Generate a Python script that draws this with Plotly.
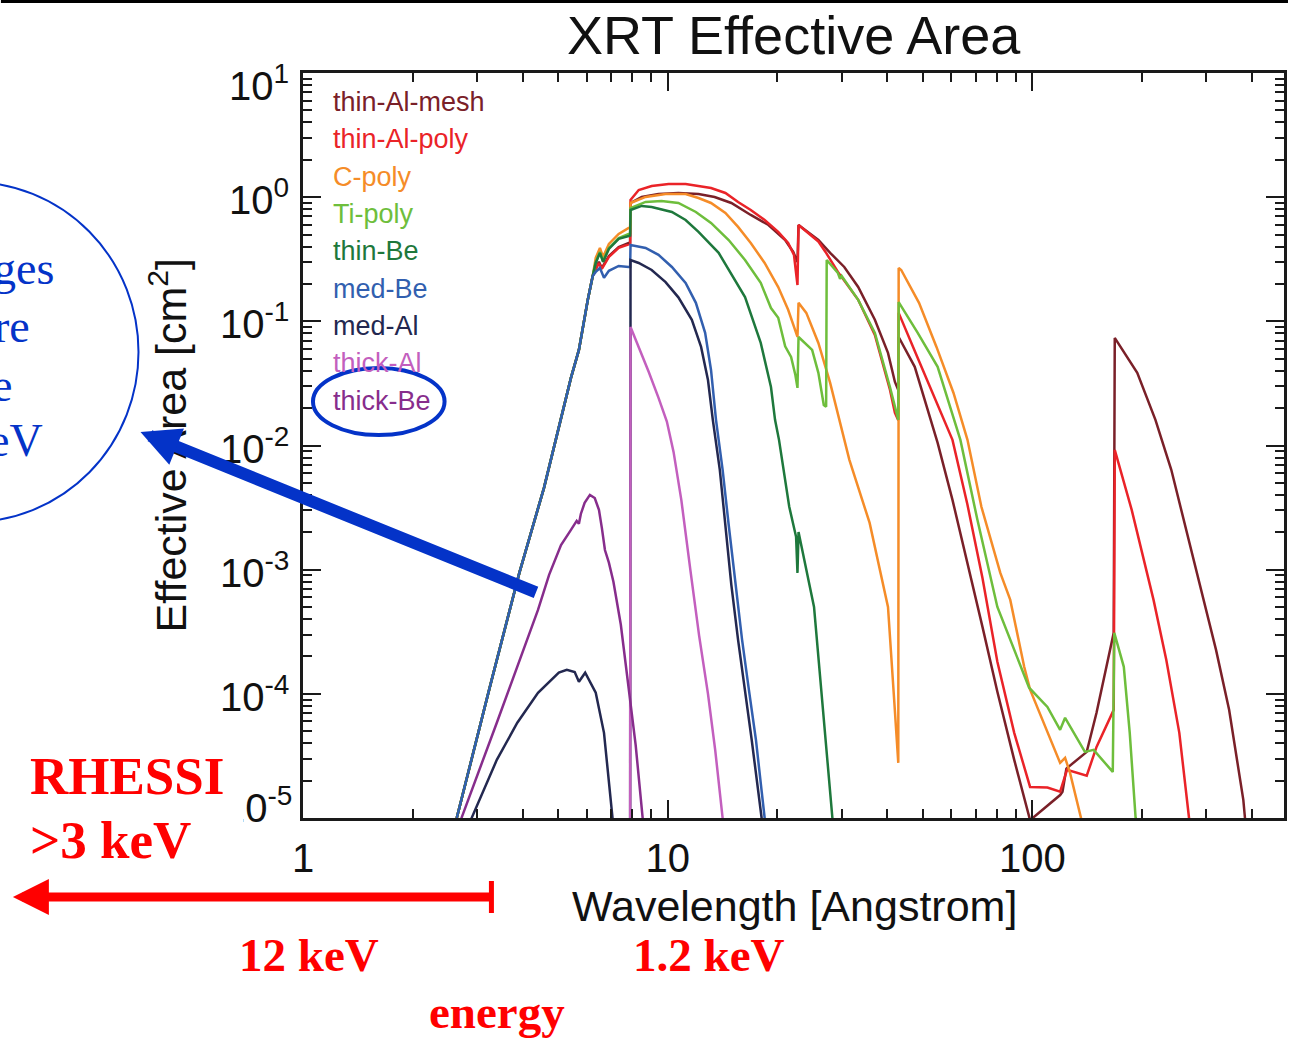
import math
import plotly.graph_objects as go

# ---------------------------------------------------------------
# XRT filter effective areas: wavelength [Angstrom] vs area [cm^2]
# ---------------------------------------------------------------

# steep common rise below the Si K edge (mirror + CCD response)
rise_wl = [2.58, 2.64, 3.24, 3.92, 4.58, 5.06, 5.43, 5.71, 5.85, 6.04, 6.23]
rise_area = [8.0e-6, 1.0e-5, 1.08e-4, 9.42e-4, 4.56e-3, 0.0152, 0.035, 0.0589, 0.0885, 0.149, 0.232]

thin_al_mesh_wl = rise_wl + [
    6.35, 6.48, 6.60, 6.90, 7.34, 7.82, 7.89,
    7.91, 8.49, 9.44, 10.7, 12.15, 13.45, 14.95, 16.9, 18.9, 21.0, 22.1, 22.7,
    22.85, 25.9, 27.9, 30.5, 33.3, 37.0, 40.2, 42.0, 42.9,
    43.0, 47.6, 55.0, 60.4, 66.4, 73.0, 80.2, 89.2, 98.6, 119.2, 121.0, 124.0, 141, 150, 167.2,
    168.3, 194, 217.6, 240.5, 264, 294.7, 319, 346.5, 379, 383, 388]
thin_al_mesh_area = rise_area + [
    0.269, 0.301, 0.269, 0.336, 0.397, 0.428, 0.43,
    0.898, 1.004, 1.061, 1.081, 1.061, 1.004, 0.898, 0.719, 0.597, 0.452, 0.362, 0.30,
    0.597, 0.452, 0.356, 0.274, 0.189, 0.103, 0.0557, 0.0325, 0.028,
    0.0748, 0.0430, 0.0105, 0.00365, 0.00114, 0.000346, 0.000104, 2.94e-5, 9.6e-6, 1.53e-5, 1.63e-5, 2.5e-5, 3.41e-5, 7.03e-5, 3.1e-4,
    0.0735, 0.0385, 0.0161, 0.00637, 0.00209, 0.000571, 0.000226, 7.43e-5, 1.4e-5, 1.0e-5, 7e-6]

thin_al_poly_wl = rise_wl + [
    6.35, 6.48, 6.60, 6.90, 7.34, 7.82, 7.89,
    7.91, 8.33, 9.04, 10.06, 11.2, 12.15, 13.15, 14.4, 15.6, 16.9, 18.45, 20.1, 21.4, 22.2, 22.7,
    22.85, 25.9, 27.1, 29.3, 33.3, 37.0, 40.7, 42.0, 42.9,
    43.0, 48.5, 55.0, 60.4, 66.4, 73.0, 80.2, 89.2, 98.6, 110, 119.2, 124.5, 141, 150, 167.2,
    168.3, 187.3, 215, 233, 253, 269, 272]
thin_al_poly_area = rise_area + [
    0.264, 0.295, 0.264, 0.330, 0.390, 0.420, 0.42,
    0.95, 1.143, 1.231, 1.277, 1.277, 1.231, 1.186, 1.081, 0.915, 0.789, 0.655, 0.525, 0.428, 0.343, 0.196,
    0.597, 0.44, 0.362, 0.25, 0.149, 0.0777, 0.0281, 0.0183, 0.016,
    0.117, 0.0507, 0.0212, 0.0111, 0.00333, 0.000856, 0.000181, 4.85e-5, 1.78e-5, 1.76e-5, 1.63e-5, 2.44e-5, 2.19e-5, 3.74e-5, 7.43e-5,
    0.00922, 0.00303, 0.000571, 0.000188, 4.85e-5, 1.0e-5, 7e-6]

c_poly_wl = rise_wl + [
    6.35, 6.52, 6.65, 6.90, 7.34, 7.82, 7.89,
    7.91, 8.70, 9.87, 11.2, 12.15, 13.15, 14.4, 15.6, 16.9, 18.45, 20.1, 21.4, 22.7,
    22.85, 24.0, 25.9, 27.9, 29.3, 30.1, 31.5, 35.8, 40.2, 41.8, 42.9,
    43.0, 43.7, 48.9, 54.6, 60.8, 66.4, 72.5, 81.7, 87.0, 95.0, 98.6, 110, 119.2, 123.0, 126.9, 136, 138]
c_poly_area = rise_area + [
    0.324, 0.390, 0.330, 0.420, 0.506, 0.565, 0.57,
    0.898, 1.004, 1.061, 1.061, 0.985, 0.898, 0.746, 0.576, 0.428, 0.295, 0.189, 0.124, 0.075,
    0.141, 0.117, 0.067, 0.0319, 0.0183, 0.0134, 0.00766, 0.00238, 0.000501, 8.95e-5, 2.78e-5,
    0.269, 0.259, 0.141, 0.0622, 0.0265, 0.0111, 0.00321, 0.000942, 0.000571, 0.000165, 0.000108, 4.85e-5, 2.78e-5, 3.05e-5, 2.31e-5, 1.0e-5, 8e-6]

ti_poly_wl = rise_wl + [
    6.35, 6.52, 6.65, 6.90, 7.34, 7.82, 7.89,
    7.91, 8.70, 9.62, 10.7, 11.95, 13.15, 14.7, 16.3, 18.0, 19.2, 20.1, 21.0, 21.8, 22.4, 22.7,
    22.85, 24.9, 25.9, 26.8, 27.2, 27.3, 29.3, 29.7, 30.0, 33.3, 37.0, 40.7, 42.9,
    43.0, 48.5, 55.0, 63.5, 70.7, 80.2, 98.0, 105, 110, 119.2, 123, 139.4, 147.3, 166.2,
    167.8, 178.2, 185, 192, 194.4]
ti_poly_area = rise_area + [
    0.301, 0.362, 0.306, 0.390, 0.469, 0.506, 0.51,
    0.818, 0.915, 0.932, 0.898, 0.760, 0.620, 0.452, 0.312, 0.204, 0.128, 0.107, 0.063, 0.0517, 0.037, 0.0291,
    0.0748, 0.0589, 0.0385, 0.0212, 0.0205, 0.312, 0.245, 0.22, 0.232, 0.149, 0.0807, 0.0296, 0.0161,
    0.143, 0.0807, 0.043, 0.0111, 0.00252, 0.000501, 0.000112, 8.95e-5, 7.85e-5, 5.13e-5, 6.41e-5, 3.41e-5, 3.54e-5, 2.35e-5,
    0.00031, 0.000165, 4.85e-5, 1.0e-5, 7e-6]

thin_be_wl = rise_wl + [
    6.35, 6.52, 6.65, 6.90, 7.34, 7.82, 7.89,
    7.91, 8.49, 9.04, 10.27, 11.2, 12.15, 13.8, 16.3, 18.0, 19.2, 19.7, 20.2, 21.55, 22.5, 22.7,
    22.85, 25.2, 26.6, 28.3, 28.6]
thin_be_area = rise_area + [
    0.295, 0.356, 0.301, 0.383, 0.461, 0.487, 0.49,
    0.789, 0.85, 0.834, 0.760, 0.655, 0.525, 0.356, 0.157, 0.067, 0.0296, 0.0161, 0.0111, 0.00321, 0.00184, 0.000942,
    0.00201, 0.000501, 7.85e-5, 1.0e-5, 7e-6]

med_be_wl = rise_wl + [
    6.35, 6.52, 6.69, 6.90, 7.34, 7.82, 7.89,
    7.91, 8.70, 9.44, 10.27, 11.2, 11.95, 12.67, 13.15, 13.57, 14.15, 14.7, 15.36, 16.0, 16.7, 17.46, 18.45, 18.7]
med_be_area = rise_area + [
    0.250, 0.269, 0.224, 0.255, 0.279, 0.274, 0.274,
    0.412, 0.390, 0.343, 0.274, 0.204, 0.141, 0.0807, 0.0406, 0.0161, 0.00637, 0.0023, 0.000755, 0.000272, 0.000108, 4.27e-5, 1.0e-5, 7e-6]

med_al_wl = [2.86, 2.90, 3.40, 3.87, 4.41, 5.03, 5.29, 5.56, 5.71, 5.94, 6.35, 6.69, 7.06, 7.12, 7.89,
             7.91, 8.33, 9.04, 9.87, 10.7, 11.65, 12.35, 12.9, 13.3, 13.9, 14.4, 14.95, 15.6, 16.3, 17.0, 18.1, 18.35]
med_al_area = [8e-6, 1.0e-5, 2.94e-5, 5.85e-5, 0.000102, 0.000148, 0.000156, 0.00015, 0.000125, 0.000148, 0.000102, 4.85e-5, 1.0e-5, 7e-6, 5e-6,
               0.312, 0.295, 0.259, 0.207, 0.156, 0.103, 0.0622, 0.0337, 0.0161, 0.00637, 0.0023, 0.000755, 0.000272, 0.000108, 4.27e-5, 1.0e-5, 7e-6]

thick_al_wl = [7.0, 7.89, 7.91, 8.33, 8.87, 9.44, 9.95, 10.38, 10.9, 11.55, 12.2, 12.9, 13.5, 14.15, 14.3]
thick_al_area = [5e-6, 5e-6, 0.0901, 0.0622, 0.0392, 0.0242, 0.0156, 0.00888, 0.00365, 0.000977, 0.000293, 0.0001, 3.54e-5, 1.0e-5, 7e-6]

thick_be_wl = [2.67, 2.72, 3.40, 3.92, 4.41, 4.73, 5.10, 5.43, 5.63, 5.71, 5.78, 5.92, 6.12, 6.31, 6.48,
               6.60, 6.73, 6.90, 7.10, 7.44, 7.82, 8.17, 8.54, 8.65]
thick_be_area = [8e-6, 1.0e-5, 5.85e-5, 1.88e-4, 4.74e-4, 9.08e-4, 1.58e-3, 2.09e-3, 2.47e-3, 2.34e-3, 2.81e-3, 3.45e-3, 4.0e-3, 3.78e-3, 3.03e-3,
                 2.17e-3, 1.44e-3, 1.14e-3, 7.98e-4, 3.6e-4, 1.08e-4, 3.88e-5, 1.0e-5, 7e-6]

filter_names = ["thin-Al-mesh", "thin-Al-poly", "C-poly", "Ti-poly", "thin-Be",
                "med-Be", "med-Al", "thick-Al", "thick-Be"]
filter_colors = ["#7a2028", "#ea2328", "#f58c28", "#6ebe3c", "#1e783c",
                 "#325faf", "#232850", "#c35fbe", "#872d8c"]
filter_wl = [thin_al_mesh_wl, thin_al_poly_wl, c_poly_wl, ti_poly_wl, thin_be_wl,
             med_be_wl, med_al_wl, thick_al_wl, thick_be_wl]
filter_area = [thin_al_mesh_area, thin_al_poly_area, c_poly_area, ti_poly_area, thin_be_area,
               med_be_area, med_al_area, thick_al_area, thick_be_area]

x_tick_vals = [1, 10, 100]
x_tick_text = ["1", "10", "100"]
y_exponents = [1, 0, -1, -2, -3, -4, -5]

# ---------------------------------------------------------------
# page geometry (pixels) and helpers to place overlay items
# ---------------------------------------------------------------
W, H = 1291, 1038
PL, PR, PT, PB = 303, 1287, 73, 818


def fx(xp):
    return (xp - PL) / (PR - PL)


def fy(yp):
    return (PB - yp) / (PB - PT)


SANS = "Liberation Sans, Arial, Helvetica, sans-serif"
SERIF = "Liberation Serif, Times New Roman, serif"
BLUE = "#0433c8"
RED = "#ff0000"
AXIS = "#1a1a1a"

fig = go.Figure()
for name, color, wl, area in zip(filter_names, filter_colors, filter_wl, filter_area):
    fig.add_trace(go.Scatter(x=wl, y=area, mode="lines", name=name,
                             line=dict(color=color, width=2.5)))

x_minor = [m * 10 ** e for e in range(0, 3) for m in range(2, 10) if m * 10 ** e < 490]
y_minor = [m * 10.0 ** e for e in range(-5, 1) for m in range(2, 10)]

fig.update_layout(
    width=W, height=H,
    margin=dict(l=PL, r=W - PR, t=PT, b=H - PB, pad=0),
    paper_bgcolor="white", plot_bgcolor="white",
    showlegend=False,
    xaxis=dict(
        type="log", range=[0, math.log10(490)],
        showline=True, linecolor=AXIS, linewidth=2.5, mirror="allticks",
        ticks="inside", ticklen=18, tickwidth=2, tickcolor=AXIS,
        tickvals=x_tick_vals, ticktext=x_tick_text,
        tickfont=dict(family=SANS, size=40, color="#111111"),
        ticklabelstandoff=3,
        showgrid=False, zeroline=False,
        minor=dict(ticks="inside", ticklen=9, tickwidth=2, tickcolor=AXIS,
                   tickvals=x_minor, showgrid=False),
    ),
    yaxis=dict(
        type="log", range=[-5, 1],
        showline=True, linecolor=AXIS, linewidth=2.5, mirror="allticks",
        ticks="inside", ticklen=18, tickwidth=2, tickcolor=AXIS,
        tickvals=[10.0 ** k for k in y_exponents], showticklabels=False,
        showgrid=False, zeroline=False,
        minor=dict(ticks="inside", ticklen=9, tickwidth=2, tickcolor=AXIS,
                   tickvals=y_minor, showgrid=False),
    ),
)

ann = []
# title and axis titles
ann.append(dict(text="XRT Effective Area", x=fx(796), y=fy(35), xref="paper", yref="paper",
                xanchor="center", yanchor="middle", showarrow=False,
                font=dict(family=SANS, size=54, color="#111111")))
ann.append(dict(text="Wavelength [Angstrom]", x=fx(796), y=fy(906), xref="paper", yref="paper",
                xanchor="center", yanchor="middle", showarrow=False,
                font=dict(family=SANS, size=43, color="#111111")))
ann.append(dict(text="Effective Area [cm<sup>2</sup>]", x=fx(168), y=fy(445),
                xref="paper", yref="paper", textangle=-90,
                xanchor="center", yanchor="middle", showarrow=False,
                font=dict(family=SANS, size=43, color="#111111")))

# y tick labels as powers of ten
for k in y_exponents:
    shift = -10 if k == 1 else (13 if k == -5 else 0)
    right = 294 if k == -5 else 291
    ann.append(dict(text="10<sup>%d</sup>" % k, x=fx(right), y=k, xref="paper", yref="y",
                    xanchor="right", yanchor="middle", yshift=shift, showarrow=False,
                    font=dict(family=SANS, size=40, color="#111111")))

# filter labels in the upper-left corner of the plot
legend_rows = [102, 139, 177, 214, 251, 289, 326, 363, 401]
for name, color, row in zip(filter_names, filter_colors, legend_rows):
    ann.append(dict(text=name, x=fx(331), y=fy(row), xref="paper", yref="paper",
                    xanchor="left", yanchor="middle", showarrow=False,
                    font=dict(family=SANS, size=27, color=color)))

# blue note text, partly outside the page on the left
for txt, xr, yc in [("ges", 55, 268), ("re", 31, 326), ("e", 13, 385), ("eV", 44, 440)]:
    ann.append(dict(text=txt, x=fx(xr), y=fy(yc), xref="paper", yref="paper",
                    xanchor="right", yanchor="middle", showarrow=False,
                    font=dict(family=SERIF, size=46, color=BLUE)))

# red energy notes; the two left ones sit on white text boxes
red_notes = [("RHESSI", 28, 776, 53, "left", True), (">3 keV", 28, 840, 53, "left", True),
             ("12 keV", 309, 955, 47, "center", False), ("1.2 keV", 710, 955, 47, "center", False),
             ("energy", 498, 1012, 47, "center", False)]
for txt, xp, yp, size, anchor, boxed in red_notes:
    note = dict(text="<b>%s</b>" % txt, x=fx(xp), y=fy(yp), xref="paper", yref="paper",
                xanchor=anchor, yanchor="middle", showarrow=False,
                font=dict(family=SERIF, size=size, color=RED))
    if boxed:
        note.update(bgcolor="white", width=213, height=64, align="left", borderpad=0)
    ann.append(note)

# arrows
ann.append(dict(text="", x=fx(140), y=fy(432), xref="paper", yref="paper",
                ax=397, ay=161, showarrow=True, arrowhead=2, arrowsize=0.65,
                arrowwidth=12, arrowcolor=BLUE))
ann.append(dict(text="", x=fx(12), y=fy(897), xref="paper", yref="paper",
                ax=481, ay=0, showarrow=True, arrowhead=2, arrowsize=0.8,
                arrowwidth=9, arrowcolor=RED))

fig.update_layout(annotations=ann)

shapes = [
    # page border line at the very top
    dict(type="line", xref="paper", yref="paper", x0=fx(0), x1=fx(W), y0=fy(1.5), y1=fy(1.5),
         line=dict(color="black", width=3)),
    # large note circle on the left
    dict(type="circle", xref="paper", yref="paper", x0=fx(-198), x1=fx(138), y0=fy(522), y1=fy(182),
         line=dict(color=BLUE, width=2), fillcolor="rgba(0,0,0,0)", layer="above"),
    # ring around the thick-Be label
    dict(type="circle", xref="paper", yref="paper", x0=fx(313), x1=fx(445), y0=fy(435), y1=fy(368),
         line=dict(color=BLUE, width=4), fillcolor="white", layer="above"),
    # end bar of the red arrow
    dict(type="line", xref="paper", yref="paper", x0=fx(492), x1=fx(492), y0=fy(881), y1=fy(913),
         line=dict(color=RED, width=5)),
]
fig.update_layout(shapes=shapes)

fig.write_html("out.html")
